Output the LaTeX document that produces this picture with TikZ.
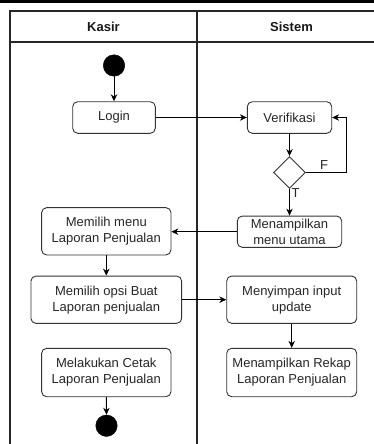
\documentclass[tikz,border=0pt]{standalone}
\usepackage{fontspec}
\setmainfont{Liberation Sans}
\usetikzlibrary{shapes.geometric,arrows.meta}
\begin{document}
\begin{tikzpicture}[x=1pt,y=-1pt,
  lane/.style={draw=black!85, line width=1.8pt},
  act/.style={draw=black!80, line width=0.9pt, rounded corners=5pt, align=center,
    inner sep=0pt, font=\fontsize{13}{16}\selectfont, text=black!85},
  dot/.style={circle, fill=black, draw=black, inner sep=0pt, minimum size=21.5pt},
  choice/.style={diamond, draw=black!80, line width=0.9pt, inner sep=0pt,
    minimum width=32pt, minimum height=32pt},
  arr/.style={draw=black, line width=0.9pt, -{Stealth[length=7pt,width=6.5pt]}},
  lbl/.style={font=\fontsize{13}{16}\selectfont, text=black!85, inner sep=0pt},
  head/.style={font=\bfseries\fontsize{13}{16}\selectfont, text=black!90, inner sep=0pt}]
\useasboundingbox (0,0) rectangle (374,444);
\clip (0,0) rectangle (374,444);
\fill[white] (0,0) rectangle (374,444);
% top band
\fill[black] (0,0) rectangle (374,3);

% swimlanes
\draw[lane] (10,11) rectangle (386,460);
\draw[lane] (10,42) -- (386,42);
\draw[lane] (197,11) -- (197,460);
\node[head] (hkasir) at (103.5,26.5) {Kasir};
\node[head] (hsistem) at (291.5,26.5) {Sistem};

% activities
\node[dot] (start) at (114,65.5) {};
\node[act, minimum width=82.6pt, minimum height=31.6pt] (login) at (114,117.5) {Login};
\node[act, minimum width=84.4pt, minimum height=31.6pt] (verif) at (289.5,117.5) {Verifikasi};
\node[choice] (dec) at (289.5,172.5) {};
\node[act, minimum width=104.4pt, minimum height=31.3pt] (menu) at (289.5,231.7) {Menampilkan\\menu utama};
\node[act, minimum width=129.3pt, minimum height=47.3pt] (pilih) at (106.3,231.3) {Memilih menu\\Laporan Penjualan};
\node[act, minimum width=150.7pt, minimum height=47.3pt] (opsi) at (106.3,299.7) {Memilih opsi Buat\\Laporan penjualan};
\node[act, minimum width=130pt, minimum height=47.3pt] (simpan) at (291.7,299.7) {Menyimpan input\\update};
\node[act, minimum width=130pt, minimum height=48.4pt] (rekap) at (291.7,372.5) {Menampilkan Rekap\\Laporan Penjualan};
\node[act, minimum width=129.3pt, minimum height=48.4pt] (cetak) at (106.3,372.5) {Melakukan Cetak\\Laporan Penjualan};
\node[dot] (end) at (106.5,425.7) {};

% flow
\coordinate (loop) at (346.7,172.5);
\draw[arr] (start) -- (login);
\draw[arr] (login) -- (verif);
\draw[arr] (verif) -- (dec);
\draw[arr] (dec.east) -- (loop) |- (verif.east);
\draw[arr] (dec.south) -- (menu.north);
\draw[arr] (menu.west) -- (pilih.east |- menu.west);
\draw[arr] (pilih) -- (opsi);
\draw[arr] (opsi.east) -- (simpan.west);
\draw[arr] (simpan) -- (rekap);
\draw[arr] (cetak) -- (end);
\node[lbl] (f) at (324,165) {F};
\node[lbl] (t) at (295.5,193) {T};
\end{tikzpicture}
\end{document}
